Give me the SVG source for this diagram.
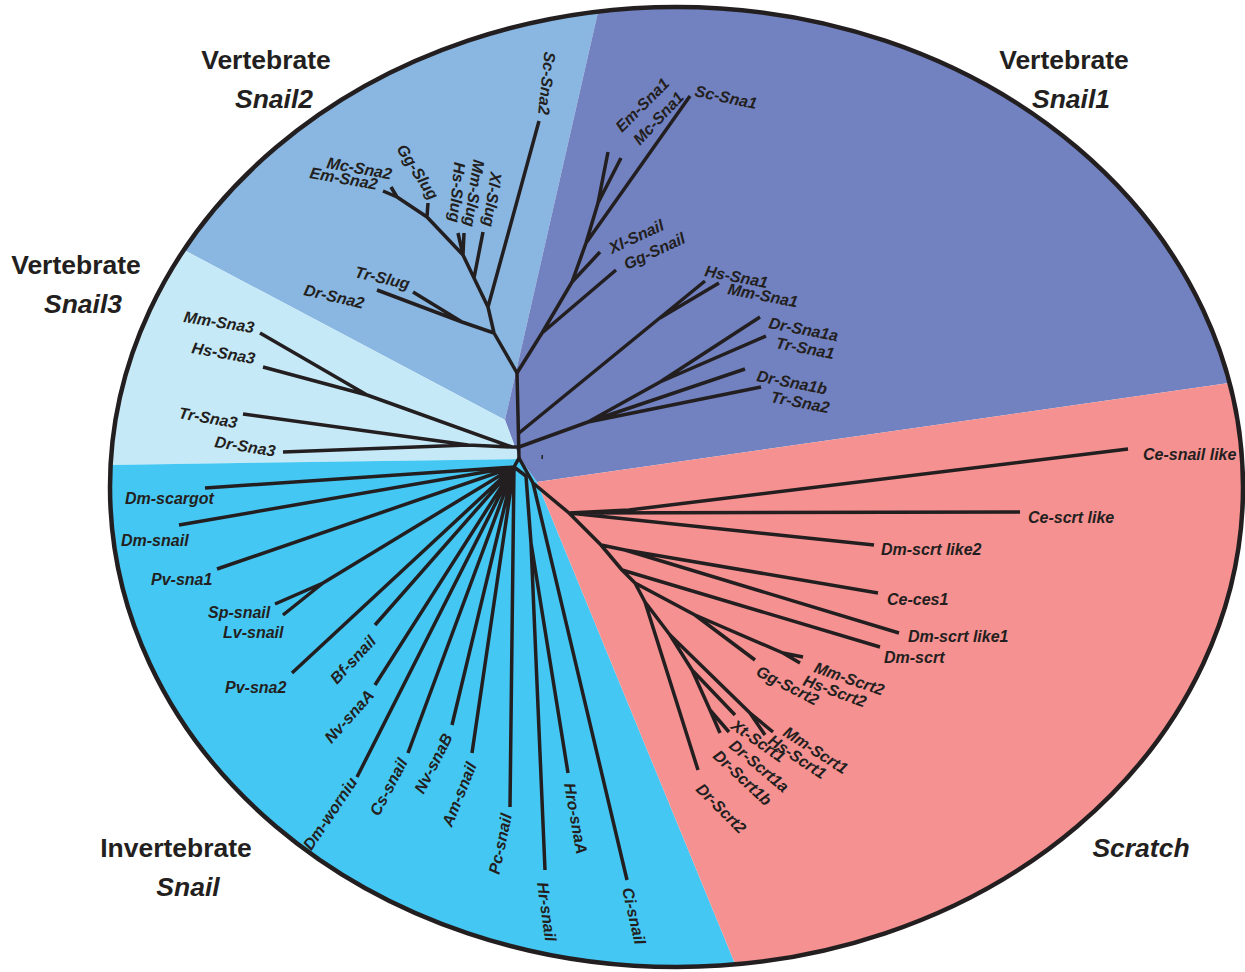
<svg xmlns="http://www.w3.org/2000/svg" width="1245" height="972" viewBox="0 0 1245 972">
<style>
.br{stroke:#231F20;stroke-width:3.5;fill:none;stroke-linejoin:round;stroke-linecap:butt}
.lf{font-family:"Liberation Sans",Arial,Helvetica,sans-serif;font-size:16px;font-weight:bold;font-style:italic;fill:#231F20}
.e{text-anchor:end}
.gl{font-family:"Liberation Sans",Arial,Helvetica,sans-serif;font-size:26.5px;font-weight:bold;fill:#231F20;text-anchor:middle}
.gi{font-style:italic}
</style>
<defs>
<clipPath id="ell"><ellipse cx="676.5" cy="487" rx="566.5" ry="480"/></clipPath>
</defs>
<rect width="1245" height="972" fill="#FFFFFF"/>
<g id="sectors" clip-path="url(#ell)">
<polygon id="sec-snail2" fill="#89B7E2" points="505,420 -137,80 -137,-200 644.5,-192"/>
<polygon id="sec-snail1" fill="#7282C0" points="505,420 644.5,-192 1600,-200 1576,333.5 537,482 520,459 515,447"/>
<polygon id="sec-snail3" fill="#C6E9F8" points="-137,80 505,420 515,447 520,459 -100,468"/>
<polygon id="sec-invert" fill="#45C7F3" points="-100,468 520,459 537,482 775,1061 -100,1061"/>
<polygon id="sec-scratch" fill="#F59190" points="537,482 1576,333.5 1600,1100 775,1061"/>
</g>
<ellipse cx="676.5" cy="487" rx="566.5" ry="480" fill="none" stroke="#231F20" stroke-width="4.5"/>
<rect x="541.5" y="455" width="1.5" height="4" fill="#231F20"/>
<g id="connectors">
<path class="br" d="M517,373 L519,458"/>
<path class="br" d="M517,373 L494,333 L488,307 L474,278 L463,255 L427,217 L397,197 L391,187 M397,197 L383,191 M427,217 L428,203 M463,255 L458,233 M463,255 L464,233 M474,278 L483,232 M488,307 L539,121 M494,333 L462,322 L413,292 M462,322 L377,290"/>
<path class="br" d="M517,373 L542,333 L572,282 L586,243 L598,203 L608,152 M598,203 L621,158 M586,243 L690,96 M572,282 L600,252 M542,333 L616,270 M519,433 L705,281 M660,318 L719,283 M519,447 L588,422 L660,382 L760,317 M660,382 L766,336 M588,422 L745,369 M588,422 L761,387"/>
<path class="br" d="M519,447 L512,447 L367,395 L260,333 M367,395 L263,367 M512,447 L468,445 L243,414 M468,445 L283,452"/>
<path class="br" d="M519,458 L514,467 M514,467 L205,488 M514,467 L179,525 M514,467 L217,569 M514,467 L323,583 L275,604 M323,583 L283,615 M514,467 L292,673 M514,467 L375,625 M514,467 L375,685 M514,467 L357,777 M514,467 L408,753 M514,467 L452,725 M514,467 L472,753 M514,467 L510,807 M514,467 L526,476 L531,543 L545,870 M531,543 L568,773 M533,483 L627,880"/>
<path class="br" d="M519,458 L533,483 L569,513 L601,545 L622,570 L635,583 L645,602 L670,635 L750,713 L773,732 M750,713 L765,735 M670,635 L692,670 L735,715 M692,670 L710,710 L729,732 M710,710 L720,733 M645,602 L698,770 M635,583 L695,615 L755,660 M695,615 L783,653 L803,657 M783,653 L800,663 M622,570 L880,647 M601,545 L625,550 L878,593 M625,550 L899,633 M569,513 L874,545 M569,513 L1020,512 M569,513 L629,510 L1128,449"/>
</g>
<g id="group-labels">
<g id="lbl-snail2"><text class="gl" x="266" y="69">Vertebrate</text><text class="gl gi" x="274" y="108">Snail2</text></g>
<g id="lbl-snail1"><text class="gl" x="1064" y="69">Vertebrate</text><text class="gl gi" x="1071" y="108">Snail1</text></g>
<g id="lbl-snail3"><text class="gl" x="76" y="274">Vertebrate</text><text class="gl gi" x="83" y="313">Snail3</text></g>
<g id="lbl-invert"><text class="gl" x="176" y="857">Invertebrate</text><text class="gl gi" x="188" y="896">Snail</text></g>
<g id="lbl-scratch"><text class="gl gi" x="1141" y="857">Scratch</text></g>
</g>
<g id="leaves">
<g id="n-Sc-Sna1"><text class="lf" transform="translate(694,96) rotate(12)">Sc-Sna1</text></g>
<g id="n-Em-Sna1"><text class="lf" transform="translate(622,133) rotate(-45)">Em-Sna1</text></g>
<g id="n-Mc-Sna1"><text class="lf" transform="translate(640,146) rotate(-47)">Mc-Sna1</text></g>
<g id="n-Xl-Snail"><text class="lf" transform="translate(612,254) rotate(-25)">Xl-Snail</text></g>
<g id="n-Gg-Snail"><text class="lf" transform="translate(627,270) rotate(-25)">Gg-Snail</text></g>
<g id="n-Hs-Sna1"><text class="lf" transform="translate(704,276) rotate(11)">Hs-Sna1</text></g>
<g id="n-Mm-Sna1"><text class="lf" transform="translate(727,294) rotate(11)">Mm-Sna1</text></g>
<g id="n-Dr-Sna1a"><text class="lf" transform="translate(768,328) rotate(11)">Dr-Sna1a</text></g>
<g id="n-Tr-Sna1"><text class="lf" transform="translate(775,348) rotate(11)">Tr-Sna1</text></g>
<g id="n-Dr-Sna1b"><text class="lf" transform="translate(756,381) rotate(11)">Dr-Sna1b</text></g>
<g id="n-Tr-Sna2"><text class="lf" transform="translate(770,402) rotate(11)">Tr-Sna2</text></g>
<g id="n-Sc-Sna2"><text class="lf e" transform="translate(538,114) rotate(96)">Sc-Sna2</text></g>
<g id="n-Xl-Slug"><text class="lf e" transform="translate(483,226) rotate(98)">Xl-Slug</text></g>
<g id="n-Mm-Slug"><text class="lf e" transform="translate(464,226) rotate(98)">Mm-Slug</text></g>
<g id="n-Hs-Slug"><text class="lf e" transform="translate(449,222) rotate(95)">Hs-Slug</text></g>
<g id="n-Gg-Slug"><text class="lf e" transform="translate(430,201) rotate(57)">Gg-Slug</text></g>
<g id="n-Mc-Sna2"><text class="lf" transform="translate(326,168) rotate(10)">Mc-Sna2</text></g>
<g id="n-Em-Sna2"><text class="lf" transform="translate(309,178) rotate(10)">Em-Sna2</text></g>
<g id="n-Tr-Slug"><text class="lf" transform="translate(354,277) rotate(13)">Tr-Slug</text></g>
<g id="n-Dr-Sna2"><text class="lf" transform="translate(303,295) rotate(13)">Dr-Sna2</text></g>
<g id="n-Mm-Sna3"><text class="lf" transform="translate(183,322) rotate(9)">Mm-Sna3</text></g>
<g id="n-Hs-Sna3"><text class="lf" transform="translate(191,353) rotate(10)">Hs-Sna3</text></g>
<g id="n-Tr-Sna3"><text class="lf" transform="translate(178,418) rotate(10)">Tr-Sna3</text></g>
<g id="n-Dr-Sna3"><text class="lf" transform="translate(214,447) rotate(9)">Dr-Sna3</text></g>
<g id="n-Dm-scargot"><text class="lf" x="125" y="504">Dm-scargot</text></g>
<g id="n-Dm-snail"><text class="lf" x="121" y="546">Dm-snail</text></g>
<g id="n-Pv-sna1"><text class="lf" x="151" y="585">Pv-sna1</text></g>
<g id="n-Sp-snail"><text class="lf" x="208" y="618">Sp-snail</text></g>
<g id="n-Lv-snail"><text class="lf" x="223" y="638">Lv-snail</text></g>
<g id="n-Pv-sna2"><text class="lf" x="225" y="693">Pv-sna2</text></g>
<g id="n-Bf-snail"><text class="lf e" transform="translate(377,642) rotate(-47)">Bf-snail</text></g>
<g id="n-Nv-snaA"><text class="lf e" transform="translate(375,696) rotate(-48)">Nv-snaA</text></g>
<g id="n-Dm-worniu"><text class="lf e" transform="translate(358,782) rotate(-56)">Dm-worniu</text></g>
<g id="n-Cs-snail"><text class="lf e" transform="translate(408,762) rotate(-62)">Cs-snail</text></g>
<g id="n-Nv-snaB"><text class="lf e" transform="translate(453,737) rotate(-63)">Nv-snaB</text></g>
<g id="n-Am-snail"><text class="lf e" transform="translate(477,765) rotate(-68)">Am-snail</text></g>
<g id="n-Pc-snail"><text class="lf e" transform="translate(512,815) rotate(-78)">Pc-snail</text></g>
<g id="n-Hr-snail"><text class="lf" transform="translate(537,883) rotate(82)">Hr-snail</text></g>
<g id="n-Hro-snaA"><text class="lf" transform="translate(564,784) rotate(80)">Hro-snaA</text></g>
<g id="n-Ci-snail"><text class="lf" transform="translate(622,889) rotate(77)">Ci-snail</text></g>
<g id="n-Ce-snail-like"><text class="lf" x="1143" y="460">Ce-snail like</text></g>
<g id="n-Ce-scrt-like"><text class="lf" x="1028" y="523">Ce-scrt like</text></g>
<g id="n-Dm-scrt-like2"><text class="lf" x="881" y="555">Dm-scrt like2</text></g>
<g id="n-Ce-ces1"><text class="lf" x="887" y="605">Ce-ces1</text></g>
<g id="n-Dm-scrt-like1"><text class="lf" x="908" y="642">Dm-scrt like1</text></g>
<g id="n-Dm-scrt"><text class="lf" x="884" y="663">Dm-scrt</text></g>
<g id="n-Mm-Scrt2"><text class="lf" transform="translate(813,672) rotate(19)">Mm-Scrt2</text></g>
<g id="n-Hs-Scrt2"><text class="lf" transform="translate(802,685) rotate(20)">Hs-Scrt2</text></g>
<g id="n-Gg-Scrt2"><text class="lf" transform="translate(755,675) rotate(27)">Gg-Scrt2</text></g>
<g id="n-Mm-Scrt1"><text class="lf" transform="translate(782,735) rotate(33)">Mm-Scrt1</text></g>
<g id="n-Hs-Scrt1"><text class="lf" transform="translate(767,743) rotate(34)">Hs-Scrt1</text></g>
<g id="n-Xt-Scrt1"><text class="lf" transform="translate(730,728) rotate(35)">Xt-Scrt1</text></g>
<g id="n-Dr-Scrt1a"><text class="lf" transform="translate(728,747) rotate(40)">Dr-Scrt1a</text></g>
<g id="n-Dr-Scrt1b"><text class="lf" transform="translate(712,757) rotate(43)">Dr-Scrt1b</text></g>
<g id="n-Dr-Scrt2"><text class="lf" transform="translate(695,790) rotate(45)">Dr-Scrt2</text></g>
</g>
</svg>
